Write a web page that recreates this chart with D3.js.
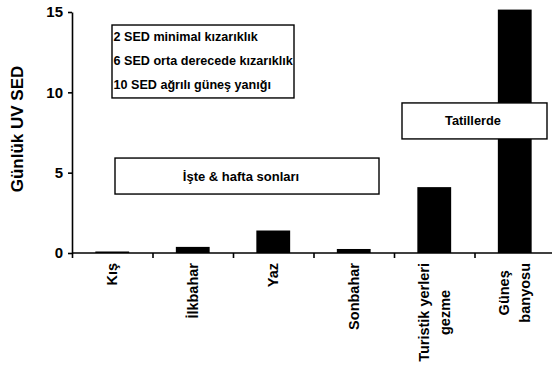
<!DOCTYPE html>
<html>
<head>
<meta charset="utf-8">
<script src="https://cdn.jsdelivr.net/npm/d3@7"></script>
<style>
  body { margin: 0; background: #fff; }
  text { font-family: "Liberation Sans", Arial, sans-serif; font-weight: bold; fill: #000; }
</style>
</head>
<body>
<svg></svg>
<script>
//data
const categories = [["Kış"], ["İlkbahar"], ["Yaz"], ["Sonbahar"], ["Turistik yerleri", "gezme"], ["Güneş", "banyosu"]];
const values = [0.05, 0.38, 1.4, 0.25, 4.1, 15.15];
const yTicks = [0, 5, 10, 15];
const legendLines = ["2 SED minimal kızarıklık", "6 SED orta derecede kızarıklık", "10 SED ağrılı güneş yanığı"];
const boxLabels = ["İşte & hafta sonları", "Tatillerde"];

//constants
const W = 552, H = 367;
const x0 = 72, x1 = 555, y0 = 253, y1 = 12;

const svg = d3.select("svg")
    .attr("width", W)
    .attr("height", H);

//scales
const keys = categories.map(d => d.join(" "));
const xScale = d3.scaleBand()
    .domain(keys)
    .range([x0, x1])
    .paddingInner(0.58)
    .paddingOuter(0.29);

const xEdge = d3.scaleLinear()
    .domain([0, keys.length])
    .range([x0, x1]);

const yScale = d3.scaleLinear()
    .domain([0, 15])
    .range([y0, y1]);

//bars
svg.selectAll(".bar")
    .data(values)
    .enter()
    .append("rect")
    .attr("class", "bar")
    .attr("x", (d, i) => xScale(keys[i]))
    .attr("width", xScale.bandwidth())
    .attr("y", d => Math.min(yScale(d), y0 - 1.5))
    .attr("height", d => Math.max(y0 - yScale(d), 1.5))
    .attr("fill", "#000");

//axes
const yAxis = svg.append("g")
    .attr("transform", "translate(" + x0 + ",0)")
    .call(d3.axisLeft(yScale).tickValues(yTicks).tickSize(4).tickSizeOuter(0).tickPadding(5));
yAxis.selectAll("text").style("font-size", "15px").style("font-family", "Liberation Sans, Arial, sans-serif");
yAxis.selectAll("path, line").attr("stroke", "#000").attr("stroke-width", 1.6);

const xAxis = svg.append("g")
    .attr("transform", "translate(0," + y0 + ")")
    .call(d3.axisBottom(xEdge).tickValues(d3.range(0, keys.length)).tickSize(5).tickSizeOuter(0).tickFormat(""));
xAxis.select("path").attr("d", "M" + x0 + ",0H" + W);
xAxis.selectAll("path, line").attr("stroke", "#000").attr("stroke-width", 1.6);

//x labels
const xl = svg.append("g");
categories.forEach((lines, i) => {
    const cx = xScale(keys[i]) + xScale.bandwidth() / 2;
    const t = xl.append("text")
        .style("font-size", "14.5px")
        .attr("transform", "rotate(-90)")
        .attr("text-anchor", "middle");
    lines.forEach((s, j) => {
        t.append("tspan")
            .attr("x", 0)
            .attr("y", cx + (j - (lines.length - 1) / 2) * 21)
            .attr("dy", "0.36em")
            .text(s);
    });
    let maxLen = 0;
    t.selectAll("tspan").each(function() { maxLen = Math.max(maxLen, this.getComputedTextLength()); });
    t.selectAll("tspan").attr("x", -(263 + maxLen / 2));
});

//y label
svg.append("text")
    .attr("transform", "translate(23," + 129 + ") rotate(-90)")
    .attr("text-anchor", "middle")
    .style("font-size", "17px")
    .text("Günlük UV SED");

//annotation boxes
function box(xa, xb, va, vb) {
    svg.append("rect")
        .attr("x", xa)
        .attr("y", yScale(va))
        .attr("width", xb - xa)
        .attr("height", yScale(vb) - yScale(va))
        .attr("fill", "#fff")
        .attr("stroke", "#000")
        .attr("stroke-width", 1.4);
}

box(112, 294, 14.19, 9.65);
legendLines.forEach((s, i) => {
    svg.append("text")
        .attr("x", 113.5)
        .attr("y", yScale(13.5) + i * 24.3)
        .attr("dy", "0.35em")
        .style("font-size", "12.6px")
        .text(s);
});

box(115, 379, 5.91, 3.67);
svg.append("text")
    .attr("x", 241)
    .attr("y", yScale(4.79))
    .attr("dy", "0.35em")
    .attr("text-anchor", "middle")
    .style("font-size", "13px")
    .text(boxLabels[0]);

box(402, 547, 9.34, 7.1);
svg.append("text")
    .attr("x", 473)
    .attr("y", yScale(8.22))
    .attr("dy", "0.35em")
    .attr("text-anchor", "middle")
    .style("font-size", "12.8px")
    .text(boxLabels[1]);
</script>
</body>
</html>
